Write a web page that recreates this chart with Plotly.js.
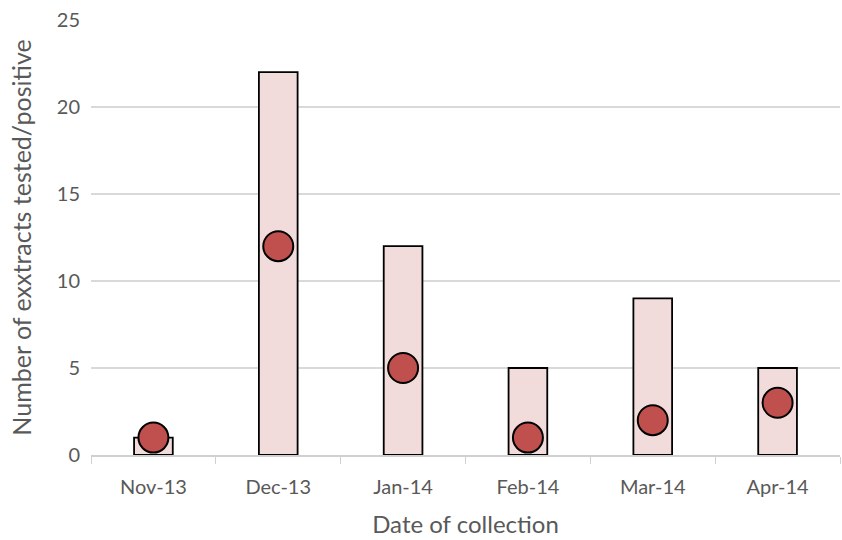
<!DOCTYPE html>
<html><head><meta charset="utf-8">
<script src="https://cdn.plot.ly/plotly-3.0.1.min.js"></script>
<style>body{margin:0;background:#fff}</style>
</head><body>
<div id="chart" style="width:842px;height:540px"></div>
<script>
const categories = ["Nov-13","Dec-13","Jan-14","Feb-14","Mar-14","Apr-14"];
const tested = [1,22,12,5,9,5];
const positive = [1,12,5,1,2,3];

const font = "Lato, 'Open Sans', sans-serif";
const data = [
  {type:"bar", x:categories, y:tested, name:"Tested",
   marker:{color:"#F2DCDB", line:{color:"#000000", width:1.8}}, width:0.31},
  {type:"scatter", mode:"markers", x:categories, y:positive, name:"Positive",
   marker:{size:30, color:"#C0504D", line:{color:"#000000", width:2}}}
];
const layout = {
  width:842, height:540,
  margin:{l:91, r:2, t:20, b:85},
  showlegend:false,
  paper_bgcolor:"#fff", plot_bgcolor:"#fff",
  font:{family:font, color:"#595959", size:20},
  xaxis:{type:"category", tickson:"boundaries", ticks:"outside", ticklen:7, tickcolor:"#d0d0d0",
    showline:true, linecolor:"#d0d0d0", linewidth:1.5, showgrid:false,
    ticklabelstandoff:13,
    tickfont:{size:20, color:"#595959"},
    title:{text:"Date of collection", font:{size:24, color:"#595959"}, standoff:19}},
  yaxis:{range:[0,25], dtick:5, showgrid:true, gridcolor:"#d9d9d9", gridwidth:1.5,
    zeroline:false, showline:false, ticks:"", ticklen:0,
    ticklabelstandoff:10,
    tickfont:{size:20, color:"#595959"},
    title:{text:"Number of exxtracts tested/positive", font:{size:25, color:"#595959"}, standoff:18}}
};
Plotly.newPlot("chart", data, layout, {displayModeBar:false, staticPlot:true});
</script>
</body></html>
